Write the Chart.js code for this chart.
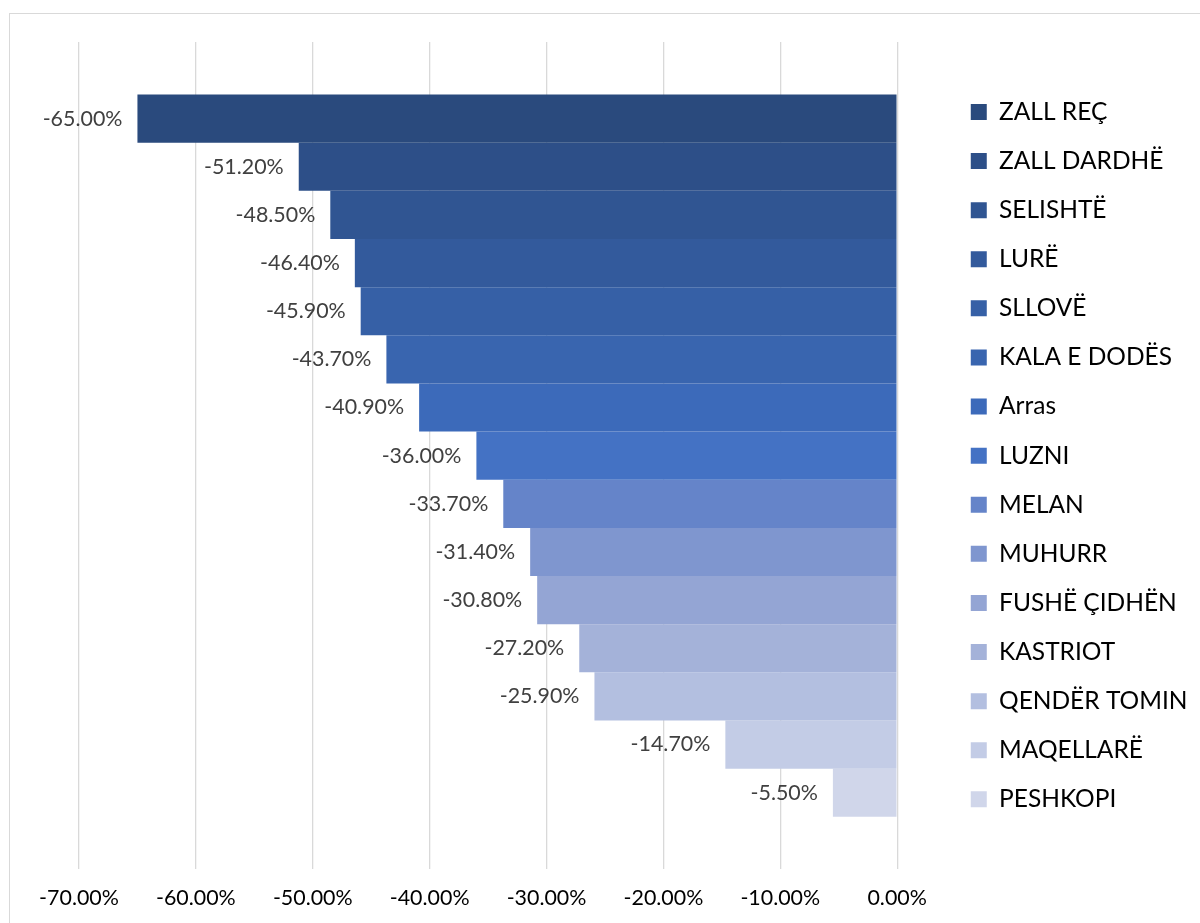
<!DOCTYPE html>
<html>
<head>
<meta charset="utf-8">
<script src="https://cdn.jsdelivr.net/npm/chart.js@4.4.1/dist/chart.umd.min.js"></script>
<style>
  html, body { margin: 0; padding: 0; background: #fff; }
  #wrap { position: relative; width: 1200px; height: 923px; overflow: hidden; }
  #frame { position: absolute; left: 9px; top: 13px; width: 1300px; height: 1000px; border: 1.3px solid #d9d9d9; }
  #c { position: absolute; left: 0; top: 0; }
</style>
</head>
<body>
<div id="wrap">
  <div id="frame"></div>
  <canvas id="c" width="1200" height="923"></canvas>
</div>
<script>
const places = ['ZALL REÇ', 'ZALL DARDHË', 'SELISHTË', 'LURË', 'SLLOVË', 'KALA E DODËS', 'Arras', 'LUZNI',
  'MELAN', 'MUHURR', 'FUSHË ÇIDHËN', 'KASTRIOT', 'QENDËR TOMIN', 'MAQELLARË', 'PESHKOPI'];
const changes = [-65.0, -51.2, -48.5, -46.4, -45.9, -43.7, -40.9, -36.0,
  -33.7, -31.4, -30.8, -27.2, -25.9, -14.7, -5.5];
const colors = ['#2a4a7d', '#2d4f88', '#305592', '#335a9c', '#3660a6', '#3965af', '#3c6aba', '#4472c4',
  '#6584c9', '#7f96cf', '#94a5d4', '#a4b2d9', '#b3bfe0', '#c3cce6', '#d0d6ea'];
const xTicks = [-70, -60, -50, -40, -30, -20, -10, 0];

const datasets = places.map((p, i) => ({
  label: p,
  data: [changes[i]],
  backgroundColor: colors[i],
  borderWidth: 0,
  barPercentage: 1,
  categoryPercentage: 0.873
}));

// value labels just outside the bar ends
const valueLabels = {
  id: 'valueLabels',
  afterDatasetsDraw(chart) {
    const ctx = chart.ctx;
    ctx.save();
    ctx.font = '21.4px Lato';
    ctx.fillStyle = '#404040';
    ctx.textAlign = 'right';
    ctx.textBaseline = 'middle';
    chart.data.datasets.forEach((ds, i) => {
      const bar = chart.getDatasetMeta(i).data[0];
      ctx.fillText(ds.data[0].toFixed(2) + '%', bar.x - 15, bar.y);
    });
    ctx.restore();
  }
};

new Chart(document.getElementById('c'), {
  type: 'bar',
  data: { labels: [''], datasets: datasets },
  options: {
    indexAxis: 'y',
    responsive: false,
    animation: false,
    layout: { padding: { top: 42, left: 79, right: 2.5, bottom: -4 } },
    scales: {
      x: {
        min: -70, max: 0,
        afterBuildTicks: s => { s.ticks = xTicks.map(v => ({ value: v })); },
        grid: { color: '#d9d9d9', lineWidth: 1.3, drawTicks: false },
        border: { display: false },
        ticks: {
          padding: 16,
          color: '#000',
          font: { family: 'Lato', size: 21.4 },
          callback: v => v.toFixed(2) + '%'
        }
      },
      y: {
        position: 'right',
        grid: { display: false },
        border: { display: false },
        ticks: { display: false },
        afterFit: s => { s.width = 49; }
      }
    },
    plugins: {
      tooltip: { enabled: false },
      legend: {
        position: 'right',
        fullSize: false,
        labels: {
          boxWidth: 16,
          boxHeight: 16,
          padding: 24.6,
          color: '#000',
          font: { family: 'Lato', size: 24.5 }
        }
      }
    }
  },
  plugins: [valueLabels]
});
</script>
</body>
</html>
